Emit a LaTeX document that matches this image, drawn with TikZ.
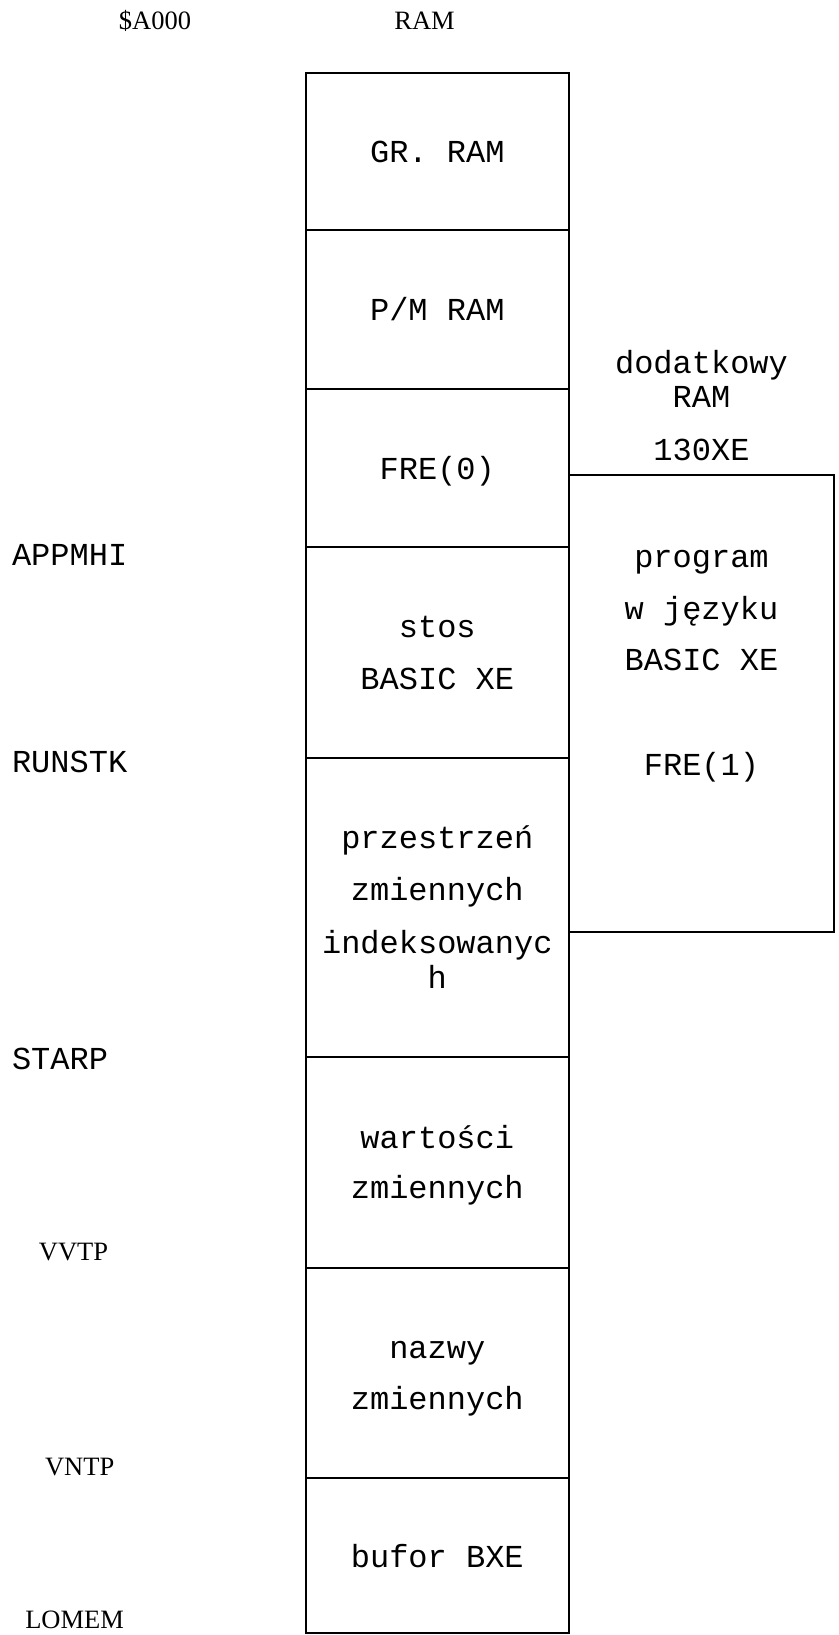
\documentclass[tikz,border=0pt]{standalone}
\usepackage{fontspec}
\setmainfont{Liberation Serif}
\newfontfamily\monofam{Liberation Mono}
\begin{document}
\begin{tikzpicture}[x=1bp,y=-1bp,line width=2bp,
  mt/.style={font=\monofam\fontsize{32bp}{34bp}\selectfont,inner sep=0pt,anchor=base},
  mtl/.style={mt,anchor=base west},
  st/.style={font=\fontsize{26.5bp}{28bp}\selectfont,inner sep=0pt,anchor=base},
  sect/.style={draw,line width=2bp}]
\useasboundingbox (0,0) rectangle (838,1635);
% main column sections
\path[sect] (305.5,73) rectangle (569,230.3) coordinate (grb);
\path[sect] (305.5,230.3) rectangle (569,388.8) coordinate (pmb);
\path[sect] (305.5,388.8) rectangle (569,547.3) coordinate (fr0b);
\path[sect] (305.5,547.3) rectangle (569,757.8) coordinate (stb);
\path[sect] (305.5,757.8) rectangle (569,1056.9) coordinate (prb);
\path[sect] (305.5,1056.9) rectangle (569,1267.6) coordinate (wab);
\path[sect] (305.5,1267.6) rectangle (569,1478) coordinate (nab);
\path[sect] (305.5,1478) rectangle (569,1633) coordinate (bub);
% extra RAM box
\path[sect] (569,475) rectangle (834,932) coordinate (xrb);
% headers
\node[st] (ha) at (155,29.5) {\$A000};
\node[st] (hr) at (424.6,29.5) {RAM};
% main texts
\node[mt] (t1) at (437.3,162.7) {GR. RAM};
\node[mt] (t2) at (437.3,320) {P/M RAM};
\node[mt] (t3) at (437.3,479) {FRE(0)};
\node[mt] (t4a) at (437.3,637.5) {stos};
\node[mt] (t4b) at (437.3,689.4) {BASIC XE};
\node[mt] (t5a) at (437.3,848) {przestrzeń};
\node[mt] (t5b) at (437.3,900) {zmiennych};
\node[mt] (t5c) at (437.3,953) {indeksowanyc};
\node[mt] (t5d) at (437.3,988) {h};
\node[mt] (t6a) at (437.3,1148) {wartości};
\node[mt] (t6b) at (437.3,1198) {zmiennych};
\node[mt] (t7a) at (437.3,1358) {nazwy};
\node[mt] (t7b) at (437.3,1409) {zmiennych};
\node[mt] (t8) at (437.3,1567) {bufor BXE};
% extra RAM texts
\node[mt] (x1) at (701.5,373) {dodatkowy};
\node[mt] (x2) at (701.5,407) {RAM};
\node[mt] (x3) at (701.5,460) {130XE};
\node[mt] (x4) at (701.5,567) {program};
\node[mt] (x5) at (701.5,619) {w języku};
\node[mt] (x6) at (701.5,670) {BASIC XE};
\node[mt] (x7) at (701.5,775) {FRE(1)};
% pointer labels
\node[mtl] (l1) at (11,565) {APPMHI};
\node[mtl] (l2) at (11,772) {RUNSTK};
\node[mtl] (l3) at (11,1069) {STARP};
\node[st] (l4) at (73.5,1260) {VVTP};
\node[st] (l5) at (79.7,1475) {VNTP};
\node[st] (l6) at (74.6,1628) {LOMEM};
\end{tikzpicture}
\end{document}
